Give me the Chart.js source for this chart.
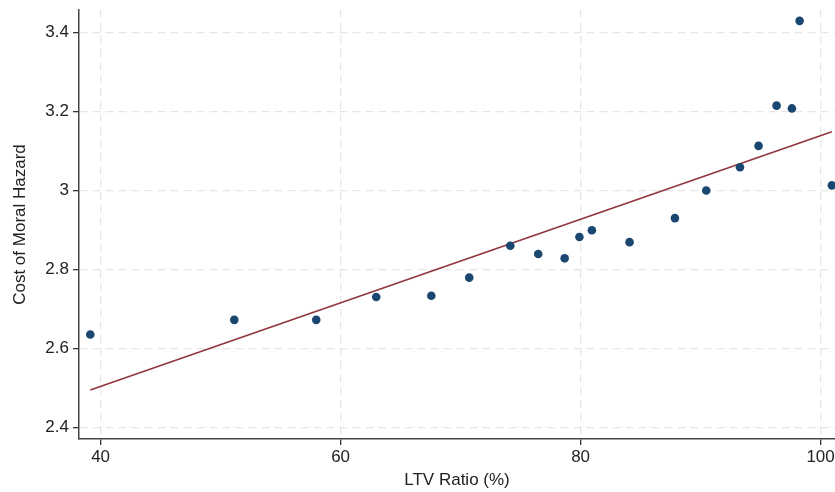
<!DOCTYPE html>
<html>
<head>
<meta charset="utf-8">
<script src="https://cdn.jsdelivr.net/npm/chart.js@4"></script>
<style>
  html, body { margin: 0; padding: 0; background: #fff; }
  #wrap { width: 835px; height: 492px; }
</style>
</head>
<body>
<div id="wrap"><canvas id="chart"></canvas></div>
<script>
// LTV ratio (%) vs cost of moral hazard
const ltv = [39.14, 51.14, 57.97, 62.97, 67.56, 70.72, 74.14, 76.47, 78.67, 79.9, 80.94,
             84.08, 87.86, 90.47, 93.28, 94.83, 96.33, 97.61, 98.25, 100.94];
const cost = [2.635, 2.672, 2.672, 2.730, 2.733, 2.779, 2.860, 2.839, 2.828, 2.882, 2.899,
              2.869, 2.930, 3.000, 3.059, 3.113, 3.215, 3.208, 3.430, 3.013];

// fitted line endpoints
const fitX = [39.14, 100.94];
const fitY = [2.494, 3.149];

const xTicks = [40, 60, 80, 100];
const yTicks = [2.4, 2.6, 2.8, 3, 3.2, 3.4];

const font = { family: '"Liberation Sans", Arial, sans-serif', size: 17 };
const gridStyle = {
  color: '#e6e6e6',
  lineWidth: 1.3,
  tickColor: '#333',
  tickLength: 6,
  tickBorderDash: [],
  tickWidth: 1.3
};
const borderStyle = { color: '#444', width: 1.5, dash: [8, 5] };

new Chart(document.getElementById('chart').getContext('2d'), {
  type: 'scatter',
  data: {
    datasets: [
      {
        label: 'fit',
        type: 'line',
        data: fitX.map((x, i) => ({ x: x, y: fitY[i] })),
        borderColor: '#90353b',
        borderWidth: 1.6,
        pointRadius: 0,
        fill: false,
        order: 2
      },
      {
        label: 'cost',
        data: ltv.map((x, i) => ({ x: x, y: cost[i] })),
        backgroundColor: '#1a476f',
        borderColor: '#1a476f',
        pointRadius: 4.3,
        pointBorderWidth: 0,
        order: 1
      }
    ]
  },
  options: {
    responsive: true,
    maintainAspectRatio: false,
    animation: false,
    layout: { autoPadding: false, padding: { top: 10, right: 0, left: 0, bottom: 0 } },
    plugins: {
      legend: { display: false },
      tooltip: { enabled: false }
    },
    scales: {
      x: {
        type: 'linear',
        min: 38.2,
        max: 101.2,
        afterFit: (s) => { s.height = 53; s.paddingLeft = 0; s.paddingRight = 0; },
        afterBuildTicks: (s) => { s.ticks = xTicks.map(v => ({ value: v })); },
        grid: gridStyle,
        border: borderStyle,
        ticks: { font: font, color: '#222', padding: 2, callback: v => String(v) },
        title: {
          display: true,
          text: 'LTV Ratio (%)',
          font: font,
          color: '#222',
          padding: { top: 0, bottom: 1 }
        }
      },
      y: {
        type: 'linear',
        min: 2.37,
        max: 3.4575,
        afterFit: (s) => { s.width = 79; s.paddingTop = 0; s.paddingBottom = 0; },
        afterBuildTicks: (s) => { s.ticks = yTicks.map(v => ({ value: v })); },
        grid: gridStyle,
        border: borderStyle,
        ticks: { font: font, color: '#222', padding: 4, callback: v => String(v) },
        title: {
          display: true,
          text: 'Cost of Moral Hazard',
          font: font,
          color: '#222',
          padding: { top: 10, bottom: 0 }
        }
      }
    }
  }
});
</script>
</body>
</html>
